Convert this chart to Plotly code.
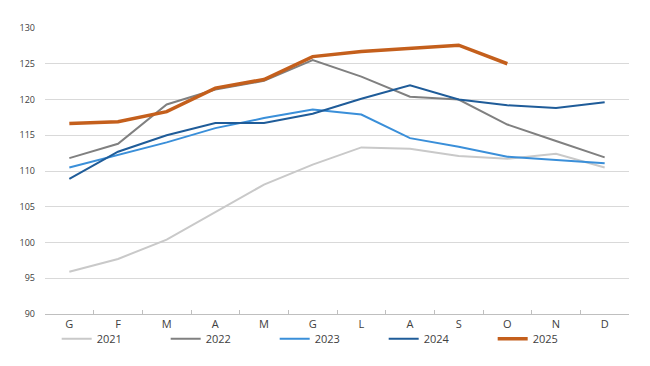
import plotly.graph_objects as go

months = ["G", "F", "M", "A", "M ", "G ", "L", "A ", "S", "O", "N", "D"]
month_labels = ["G", "F", "M", "A", "M", "G", "L", "A", "S", "O", "N", "D"]

s2021 = [95.9, 97.7, 100.4, 104.3, 108.1, 110.9, 113.3, 113.1, 112.1, 111.7, 112.4, 110.5]
s2022 = [111.8, 113.8, 119.3, 121.4, 122.6, 125.5, 123.2, 120.4, 120.0, 116.5, 114.2, 111.9]
s2023 = [110.5, 112.2, 114.0, 116.0, 117.4, 118.6, 117.9, 114.6, 113.4, 112.0, 111.5, 111.1]
s2024 = [108.9, 112.7, 115.0, 116.7, 116.7, 118.0, 120.1, 122.0, 120.0, 119.2, 118.8, 119.6]
s2025 = [116.65, 116.9, 118.3, 121.6, 122.8, 126.0, 126.7, 127.1, 127.6, 125.0]

series = [
    ("2021", s2021, "#c9c9c9", 2),
    ("2022", s2022, "#808080", 2),
    ("2023", s2023, "#3a8fd9", 2),
    ("2024", s2024, "#1f5c99", 2),
    ("2025", s2025, "#c45f1c", 3.5),
]

fig = go.Figure()
for name, vals, color, w in series:
    fig.add_trace(go.Scatter(
        x=months[:len(vals)], y=vals, name=name, mode="lines",
        line=dict(color=color, width=w),
    ))

# page body has an 8px margin; size the figure so it fits the 650x366 window
fig.update_layout(
    width=642, height=358,
    margin=dict(l=37, r=21, t=20, b=52, autoexpand=False),
    plot_bgcolor="white", paper_bgcolor="white",
    font=dict(family="Open Sans, sans-serif", color="#404040"),
    showlegend=True,
    legend=dict(
        orientation="h", x=0.02, xanchor="left",
        yref="container", y=0.076, yanchor="middle",
        entrywidth=64, entrywidthmode="pixels", itemwidth=30,
        font=dict(size=11, color="#404040"),
        tracegroupgap=0, bgcolor="rgba(0,0,0,0)",
    ),
    xaxis=dict(
        categoryorder="array", categoryarray=months,
        tickmode="array", tickvals=months, ticktext=month_labels,
        tickson="boundaries", ticks="inside", ticklen=4, tickcolor="#bfbfbf",
        showline=True, linecolor="#bfbfbf", linewidth=1,
        showgrid=False, tickfont=dict(size=11, color="#404040"),
        ticklabelstandoff=0,
        range=[-0.5, 11.5],
    ),
    yaxis=dict(
        range=[90, 130], dtick=5, tick0=90,
        showgrid=True, gridcolor="#d9d9d9", gridwidth=1,
        zeroline=False, showline=False,
        tickfont=dict(size=9, color="#404040"),
        ticklabelstandoff=9,
    ),
)

fig.write_html("out.html")
